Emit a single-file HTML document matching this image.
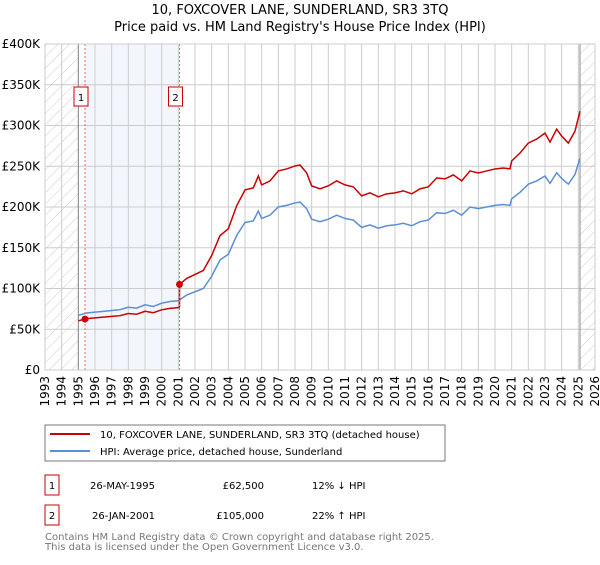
<!DOCTYPE html>
<html><head><meta charset="utf-8"><style>
body{margin:0;background:#fff;font-family:"Liberation Sans","DejaVu Sans",sans-serif;}
svg text{font-family:"DejaVu Sans","Liberation Sans",sans-serif;}
</style></head><body>
<svg id="c" width="600" height="560" xmlns="http://www.w3.org/2000/svg">
<defs><pattern id="hatch" patternUnits="userSpaceOnUse" width="8" height="8" patternTransform="rotate(45)"><line x1="0" y1="0" x2="0" y2="8" stroke="#ccc" stroke-width="1"/></pattern></defs>
<text x="300" y="14" text-anchor="middle" font-size="13">10, FOXCOVER LANE, SUNDERLAND, SR3 3TQ</text>
<text x="300" y="31" text-anchor="middle" font-size="13">Price paid vs. HM Land Registry's House Price Index (HPI)</text>
<g id="plot"></g>
<rect x="45" y="425" width="400" height="36" fill="#fff" stroke="#777"/>
<line x1="50" y1="434" x2="90" y2="434" stroke="#cc0000" stroke-width="2"/>
<text x="100" y="438" font-size="10">10, FOXCOVER LANE, SUNDERLAND, SR3 3TQ (detached house)</text>
<line x1="50" y1="451" x2="90" y2="451" stroke="#5b8fd4" stroke-width="2"/>
<text x="100" y="455" font-size="10">HPI: Average price, detached house, Sunderland</text>
<rect x="45" y="475" width="14" height="20" fill="#fff" stroke="#cc0000"/>
<text x="52" y="489" text-anchor="middle" font-size="10">1</text>
<text x="90" y="489" font-size="10">26-MAY-1995</text>
<text x="264" y="489" text-anchor="end" font-size="10">£62,500</text>
<text x="312" y="489" font-size="10">12% ↓ HPI</text>
<rect x="45" y="505" width="14" height="20" fill="#fff" stroke="#cc0000"/>
<text x="52" y="519" text-anchor="middle" font-size="10">2</text>
<text x="92" y="519" font-size="10">26-JAN-2001</text>
<text x="264" y="519" text-anchor="end" font-size="10">£105,000</text>
<text x="312" y="519" font-size="10">22% ↑ HPI</text>
<text x="45" y="540" font-size="10" fill="#777">Contains HM Land Registry data © Crown copyright and database right 2025.</text>
<text x="45" y="550" font-size="10" fill="#777">This data is licensed under the Open Government Licence v3.0.</text>
</svg>
<script>
const hpiYears=[1995.0,1995.5,1996,1996.5,1997,1997.5,1998,1998.5,1999,1999.5,2000,2000.5,2001,2001.5,2002,2002.5,2003,2003.5,2004,2004.5,2005,2005.5,2005.8,2006,2006.5,2007,2007.5,2008,2008.3,2008.7,2009,2009.5,2010,2010.5,2011,2011.5,2012,2012.5,2013,2013.5,2014,2014.5,2015,2015.5,2016,2016.5,2017,2017.5,2018,2018.5,2019,2019.5,2020,2020.5,2020.9,2021,2021.5,2022,2022.5,2023,2023.3,2023.7,2024,2024.4,2024.8,2025.1];
const hpiValues=[67,70,71,72,73,74,77,76,80,78,82,84,85,92,96,100,115,135,142,165,181,183,195,186,190,200,202,205,206,198,185,182,185,190,186,184,175,178,174,177,178,180,177,182,184,193,192,196,190,200,198,200,202,203,202,210,218,228,232,238,229,242,235,228,240,260];
const saleYears=[1995.4,2001.07];
const salePrices=[62.5,105];
const saleLabels=["1","2"];
const yTicks=[0,50,100,150,200,250,300,350,400];
const yTickLabels=["£0","£50K","£100K","£150K","£200K","£250K","£300K","£350K","£400K"];
const xYears=[1993,1994,1995,1996,1997,1998,1999,2000,2001,2002,2003,2004,2005,2006,2007,2008,2009,2010,2011,2012,2013,2014,2015,2016,2017,2018,2019,2020,2021,2022,2023,2024,2025,2026];
const X0=45,X1=595,Y0=370,Y1=44;
const xs=y=>X0+(y-1993)*(X1-X0)/33;
const ys=v=>Y0-v*(Y0-Y1)/400;
const NS="http://www.w3.org/2000/svg";
const g=document.getElementById('plot');
function mk(t,a){const e=document.createElementNS(NS,t);for(const k in a)e.setAttribute(k,a[k]);g.appendChild(e);return e;}
let e;
e=mk('rect',{x:xs(saleYears[0]),y:Y1,width:xs(saleYears[1])-xs(saleYears[0]),height:Y0-Y1,fill:'#eef3fc',opacity:0.7});


e=mk('rect',{x:X0,y:Y1,width:xs(1995)-X0,height:Y0-Y1,fill:'url(#hatch)'});


e=mk('rect',{x:xs(2025.1),y:Y1,width:X1-xs(2025.1),height:Y0-Y1,fill:'url(#hatch)'});


yTicks.forEach((v,i)=>{
 e=mk('line',{x1:X0,x2:X1,y1:ys(v),y2:ys(v),stroke:'#ccc'});
 
 
 e=mk('text',{x:X0-5,y:ys(v)+4,'text-anchor':'end','font-size':'12'});e.textContent=yTickLabels[i];
 
 
});
xYears.forEach(yr=>{
 e=mk('line',{x1:xs(yr),x2:xs(yr),y1:Y1,y2:Y0,stroke:'#ccc'});
 
 
 e=mk('text',{x:0,y:0,'font-size':'12','text-anchor':'end',transform:`translate(${xs(yr)+4},${Y0+6}) rotate(-90)`});e.textContent=yr;
 
 
});
e=mk('line',{x1:xs(1995),x2:xs(1995),y1:Y1,y2:Y0,stroke:'#888'});


e=mk('line',{x1:xs(2025.1),x2:xs(2025.1),y1:Y1,y2:Y0,stroke:'#888'});


e=mk('polyline',{points:hpiYears.map((y,i)=>xs(y)+','+ys(hpiValues[i])).join(' '),fill:'none',stroke:'#5b8fd4','stroke-width':1.5});


function hpiAt(t){for(let i=1;i<hpiYears.length;i++){if(t<=hpiYears[i]){const f=(t-hpiYears[i-1])/(hpiYears[i]-hpiYears[i-1]);return hpiValues[i-1]+f*(hpiValues[i]-hpiValues[i-1]);}}return hpiValues[hpiValues.length-1];}
const pts=[];
const r1=salePrices[0]/hpiAt(saleYears[0]),r2=salePrices[1]/hpiAt(saleYears[1]);
hpiYears.forEach((y,i)=>{if(y<saleYears[1])pts.push([y,hpiValues[i]*r1]);});
pts.push([saleYears[1],hpiAt(saleYears[1])*r1]);
pts.push([saleYears[1],salePrices[1]]);
hpiYears.forEach((y,i)=>{if(y>saleYears[1])pts.push([y,hpiValues[i]*r2]);});
e=mk('polyline',{points:pts.map(p=>xs(p[0])+','+ys(p[1])).join(' '),fill:'none',stroke:'#cc0000','stroke-width':1.5});


saleYears.forEach((y,i)=>{
 e=mk('line',{x1:xs(y),x2:xs(y),y1:Y1,y2:Y0,stroke:'#e66','stroke-dasharray':'2,2'});
 
 
 e=mk('circle',{cx:xs(y),cy:ys(salePrices[i]),r:3.5,fill:'#cc0000'});
 
 
 e=mk('rect',{x:xs(y)-11,y:87,width:14,height:19,fill:'#fff',stroke:'#cc0000'});
 
 
 e=mk('text',{x:xs(y)-4,y:101,'text-anchor':'middle','font-size':'10'});e.textContent=saleLabels[i];
 
 
});
e=mk('rect',{x:X0,y:Y1,width:X1-X0,height:Y0-Y1,fill:'none',stroke:'#ccc'});


</script>
</body></html>
